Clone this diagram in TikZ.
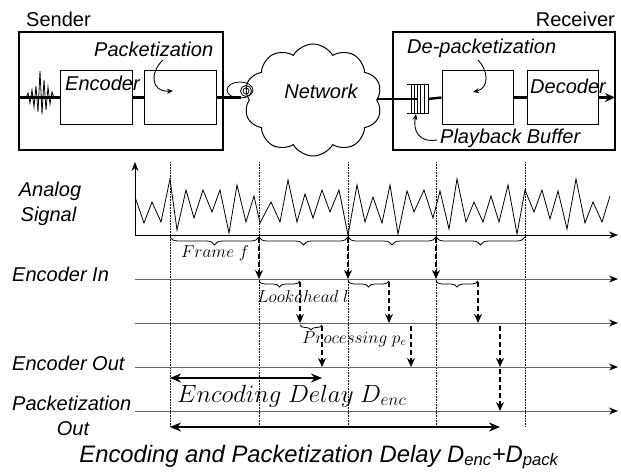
\documentclass[tikz,border=0pt]{standalone}
\usepackage{fontspec}
\setmainfont{Liberation Sans}
\usetikzlibrary{shapes.symbols,decorations.pathreplacing,arrows.meta}
\begin{document}
\begin{tikzpicture}[x=1pt,y=-1pt,
  outer/.style={draw,line width=1.5pt,inner sep=0,minimum height=118pt},
  inbox/.style={draw,line width=1pt,inner sep=0,minimum width=71pt,minimum height=54pt},
  link/.style={line width=2.4pt},
  lab/.style={font=\fontsize{20}{24}\selectfont\itshape,inner sep=0},
  ttl/.style={font=\fontsize{20}{24}\selectfont,inner sep=0},
  mlab/.style={font=\fontsize{17}{20}\selectfont,inner sep=0},
  tip/.style={-{Stealth[length=9pt,width=7pt]}},
  curv/.style={line width=0.9pt,-{Stealth[length=6pt,width=5pt]}},
  tline/.style={draw=black!60,line width=0.9pt,-{Stealth[length=9pt,width=7pt,black]}},
  gridl/.style={densely dotted,line width=0.6pt},
  darr/.style={dash pattern=on 5pt off 3pt,line width=1.4pt,-{Stealth[length=9pt,width=8pt]}},
  brc/.style={decorate,decoration={brace,mirror,amplitude=#1},line width=0.8pt},
  dbl/.style={line width=2.2pt,{Stealth[length=11pt,width=9pt]}-{Stealth[length=11pt,width=9pt]}},
  sarr/.style={line width=2.2pt,-{Stealth[length=11pt,width=9pt]}}
]
\useasboundingbox (0,0) rectangle (621,473);

% ---------- top: sender / network / receiver ----------
\node[ttl,anchor=base west] (sendt) at (26,27) {Sender};
\node[ttl,anchor=base east] (recvt) at (615,27) {Receiver};

\node[outer,minimum width=204pt] (sender) at (121,91) {};
\node[inbox,minimum width=72pt] (enc) at (96,97.5) {};
\node[inbox,minimum width=72pt] (pack) at (180,97.5) {};
\node[outer,minimum width=222pt] (recv) at (504,91) {};
\node[inbox] (dep) at (477.5,97.5) {};
\node[inbox] (dec) at (562.5,97.5) {};

\node[lab,anchor=base west] (enct) at (65,91) {Encoder};
\node[lab,anchor=base west] (packt) at (94,57) {Packetization};
\node[lab,anchor=base west] (dept) at (407,54) {De-packetization};
\node[lab,anchor=base west] (dect) at (530,94) {Decoder};
\node[lab,anchor=base west] (playt) at (440,144) {Playback Buffer};

\node[cloud,draw,line width=1pt,cloud puffs=10,cloud puff arc=120,aspect=1.2,
      minimum width=138pt,minimum height=112pt,inner sep=0] (net) at (313,100) {};
\node[lab] (nett) at (321,91) {Network};

% links
\coordinate (swl) at (sender.west |- enc.west);
\draw[link] (swl) -- (enc.west);
\draw[link] (enc.east) -- (pack.west);
\coordinate (spl) at (241,97.5);
\draw[link] (pack.east) -- (spl);
\draw[line width=0.8pt] (240,90) ellipse [x radius=13,y radius=8];
\draw[line width=0.8pt] (246,91) circle [radius=5.5];
\draw[line width=0.8pt] (246,91) circle [radius=3];

% buffer
\node[inner sep=0,minimum width=21pt,minimum height=28pt] (buf) at (417.5,99) {};
\draw[link] (net.east |- buf.west) -- (buf.center);
\draw[link] (buf.east) -- (dep.west);
\draw[line width=0.8pt] (buf.north west) -- (buf.north east) -- (buf.south east) -- (buf.south west);
\foreach \x in {411.5,414.5,417.5,420.5,424} \draw[line width=0.8pt] (\x,85) -- (\x,113);
\draw[link] (dep.east) -- (dec.west);
\coordinate (outp) at (615,97.5);
\draw[link,-{Stealth[length=10pt,width=9pt]}] (dec.east) -- (outp);

% input waveform
\draw[line width=0.8pt] plot coordinates {(20,98) (26,98) (28,93) (30,103) (32,90) (34,107) (36,86) (38,112) (40,71) (42,114) (44,80) (46,110) (48,87) (50,104) (52,92) (54,98)};

% curved pointers
\draw[curv] (163,60) .. controls (150,72) and (150,92) .. (173,91);
\draw[curv] (478,60) .. controls (488,70) and (490,88) .. (473,92);
\draw[curv] (437,140) .. controls (418,143) and (413,130) .. (416,114);

% ---------- timing chart ----------
\coordinate (O) at (135,235);
\coordinate (ytop) at (135,162);
\coordinate (xend) at (618,235);
\foreach \x in {170,259,348,436,525} \draw[gridl] (\x,162) -- (\x,427);
\draw[line width=0.9pt,tip] (O) -- (ytop);
\draw[line width=0.9pt,tip] (O) -- (xend);

\draw[line width=0.8pt] plot coordinates {(135,197) (144,223) (152,202) (161,222) (170,179) (177,230) (186,190) (194,218) (203,190) (212,212) (220,190) (229,233) (237,185) (246,222) (254,196) (260,223) (271,202) (280,222) (288,180) (297,222) (305,194) (313,218) (322,190) (330,212) (339,190) (348,235) (357,185) (365,222) (373,197) (382,223) (390,185) (398,234) (407,191) (414,212) (424,190) (433,218) (440,191) (449,229) (457,179) (466,222) (474,202) (483,222) (491,196) (499,222) (508,185) (517,234) (525,190) (534,212) (542,190) (550,219) (558,191) (567,229) (576,179) (585,223) (593,202) (602,222) (610,196)};

\foreach \y in {279,323,367,411} \draw[tline] (135,\y) -- (618,\y);

% frame braces
\foreach \a/\b in {170/259,259/348,348/436,436/525} \draw[brc=8pt] (\a,237) -- (\b,237);
\node[mlab,anchor=base west] (frt) at (181,257) {$Frame\ f$};

% frame -> encoder in
\foreach \x in {259,348,436} \draw[darr] (\x,238) -- (\x,279);
% lookahead
\foreach \a/\b in {259/300,348/389,436/478} {
  \draw[brc=6pt] (\a,281) -- (\b,281);
  \draw[darr] (\b,282) -- (\b,323);
}
\node[mlab,anchor=base west] (lat) at (257,302) {$Lookahead\ l$};
% processing
\draw[brc=5pt] (300,325) -- (322,325);
\foreach \x in {322,411,500} \draw[darr] (\x,326) -- (\x,367);
\draw[darr] (500,369) -- (500,411);
\node[mlab,anchor=base west] (prt) at (302,343) {$Processing\ p_e$};

% delays
\draw[dbl] (170,378) -- (322,378);
\node[font=\fontsize{24}{28}\selectfont,inner sep=0,anchor=base west] (edt) at (177,402) {$Encoding\ Delay\ D_{enc}$};
\draw[dbl] (170,427) -- (500,427);
\node[font=\fontsize{23.8}{28}\selectfont\itshape,inner sep=0,anchor=base] (ept) at (319,462) {Encoding and Packetization Delay D\textsubscript{enc}+D\textsubscript{pack}};

% left labels
\node[lab,anchor=base] (an1) at (50,197) {Analog};
\node[lab,anchor=base] (an2) at (48.5,222) {Signal};
\node[lab,anchor=base west] (eit) at (12,281) {Encoder In};
\node[lab,anchor=base west] (eot) at (12,370) {Encoder Out};
\node[lab,anchor=base west] (pot) at (12,410) {Packetization};
\node[lab,anchor=base] (pot2) at (73,435) {Out};
\end{tikzpicture}
\end{document}
